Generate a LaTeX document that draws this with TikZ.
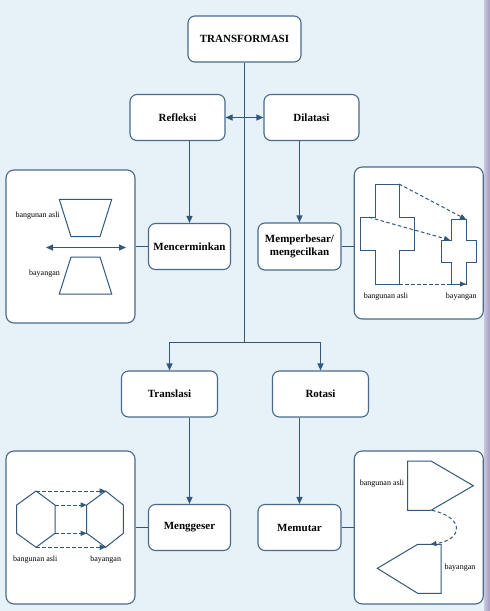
\documentclass[tikz,border=0pt]{standalone}
\usepackage{fontspec}
\setmainfont{Liberation Serif}
\usetikzlibrary{arrows.meta}
\definecolor{bg}{RGB}{230,241,248}
\definecolor{edgec}{RGB}{50,88,124}
\definecolor{bord}{RGB}{72,106,140}
\definecolor{stripl}{RGB}{200,198,222}
\definecolor{stripr}{RGB}{160,154,192}
\begin{document}
\begin{tikzpicture}[x=1pt,y=-1pt,
  box/.style={draw=bord,fill=white,rounded corners=7pt,line width=1.1pt,
    font=\fontsize{11}{13.5}\selectfont\bfseries,align=center,inner sep=0pt},
  picbox/.style={draw=bord,fill=white,rounded corners=8pt,line width=1.1pt,inner sep=0pt},
  conn/.style={draw=edgec,line width=1.1pt},
  arr/.style={conn,-{Triangle[length=7pt,width=6pt]}},
  dblarr/.style={conn,{Triangle[length=7pt,width=6pt]}-{Triangle[length=7pt,width=6pt]}},
  figline/.style={draw=edgec,line width=1pt,line join=miter},
  dasharr/.style={draw=edgec,line width=1pt,dash pattern=on 3.5pt off 2.5pt,-{Triangle[length=6pt,width=5pt]}},
  lbl/.style={font=\fontsize{8}{9}\selectfont,inner sep=0pt}]

\useasboundingbox (0,0) rectangle (490,611);
\fill[bg] (0,0) rectangle (490,611);
\shade[left color=stripl,right color=stripr] (484,0) rectangle (490,611);

% main boxes
\node[box,minimum width=113pt,minimum height=46pt] (T) at (244.5,39) {TRANSFORMASI};
\node[box,minimum width=95pt,minimum height=46pt] (R) at (177.5,117.5) {Refleksi};
\node[box,minimum width=95pt,minimum height=46pt] (D) at (311.5,117.5) {Dilatasi};
\node[box,minimum width=82pt,minimum height=46pt] (Mc) at (189.5,246.5) {Mencerminkan};
\node[box,minimum width=83pt,minimum height=47pt] (Mp) at (299.5,246.5) {Memperbesar/\\mengecilkan};
\node[box,minimum width=96pt,minimum height=46pt] (Tr) at (169.5,394) {Translasi};
\node[box,minimum width=96pt,minimum height=46pt] (Ro) at (320.5,394) {Rotasi};
\node[box,minimum width=82pt,minimum height=46pt] (Mg) at (189.5,527.5) {Menggeser};
\node[box,minimum width=83pt,minimum height=46pt] (Mu) at (299.5,527.5) {Memutar};

% picture boxes
\node[picbox,minimum width=129pt,minimum height=153pt] (P1) at (70.5,246.5) {};
\node[picbox,minimum width=129pt,minimum height=152pt] (P2) at (418.75,243) {};
\node[picbox,minimum width=129pt,minimum height=153pt] (P3) at (70.5,527.5) {};
\node[picbox,minimum width=129pt,minimum height=153pt] (P4) at (418.75,527.5) {};

% connectors
\coordinate (J) at (244.5,342.5);
\draw[conn] (T.south) -- (J);
\draw[arr] (J) -| (Tr.north);
\draw[arr] (J) -| (Ro.north);
\draw[dblarr] (R.east) -- (D.west);
\draw[arr] (Mc.north |- R.south) -- (Mc.north);
\draw[arr] (Mp.north |- D.south) -- (Mp.north);
\draw[arr] (Mg.north |- Tr.south) -- (Mg.north);
\draw[arr] (Mu.north |- Ro.south) -- (Mu.north);
\draw[conn] (Mc.west) -- (Mc.west -| P1.east);
\draw[conn] (Mp.east) -- (Mp.east -| P2.west);
\draw[conn] (Mg.west) -- (Mg.west -| P3.east);
\draw[conn] (Mu.east) -- (Mu.east -| P4.west);

% P1: reflection
\draw[figline] (59.3,199.3) -- (111.7,199.3) -- (100,236.7) -- (71,236.7) -- cycle;
\draw[figline] (71,257) -- (100,257) -- (111.7,294) -- (59.3,294) -- cycle;
\draw[dblarr] (46,247.5) -- (126,247.5);
\node[lbl,anchor=east] (l1a) at (60,216) {bangunan asli};
\node[lbl,anchor=east] (l1b) at (60,274) {bayangan};

% P2: dilation
\draw[figline] (375.7,184) -- (399,184) -- (399,217.3) -- (414.3,217.3) -- (414.3,250.7) -- (399,250.7)
  -- (399,284) -- (375.7,284) -- (375.7,250.7) -- (360.7,250.7) -- (360.7,217.3) -- (375.7,217.3) -- cycle;
\draw[figline] (451.3,219.3) -- (466,219.3) -- (466,240) -- (476.7,240) -- (476.7,262.7) -- (466,262.7)
  -- (466,284) -- (451.3,284) -- (451.3,262.7) -- (441,262.7) -- (441,240) -- (451.3,240) -- cycle;
\draw[dasharr] (399,184) -- (466,219.3);
\draw[dasharr] (369,217.3) -- (450,240);
\draw[dasharr] (399,284) -- (466,284);
\node[lbl] (l2a) at (386,296.7) {bangunan asli};
\node[lbl] (l2b) at (461.3,296.7) {bayangan};

% P3: translation
\draw[figline] (36,491) -- (55,505) -- (55,533.3) -- (36,547.3) -- (16.7,533.3) -- (16.7,505) -- cycle;
\draw[figline] (105.7,491) -- (123.3,505) -- (123.3,533.3) -- (105.7,547.3) -- (86.7,533.3) -- (86.7,505) -- cycle;
\draw[dasharr] (36,491) -- (105.7,491);
\draw[dasharr] (55,505) -- (86.7,505);
\draw[dasharr] (55,533.3) -- (86.7,533.3);
\draw[dasharr] (36,547.3) -- (105.7,547.3);
\node[lbl] (l3a) at (35.3,560) {bangunan asli};
\node[lbl] (l3b) at (105.7,560) {bayangan};

% P4: rotation
\draw[figline] (407.7,461) -- (431,461) -- (473.3,485.7) -- (431,510.3) -- (407.7,510.3) -- cycle;
\draw[figline] (417.7,544.3) -- (441,544.3) -- (441,593.3) -- (417.7,593.3) -- (377.3,568.3) -- cycle;
\draw[dasharr] (432,510.3) .. controls (466,518) and (462,540) .. (430.5,544.3);
\node[lbl] (l4a) at (382,484) {bangunan asli};
\node[lbl] (l4b) at (460,567.7) {bayangan};
\end{tikzpicture}
\end{document}
